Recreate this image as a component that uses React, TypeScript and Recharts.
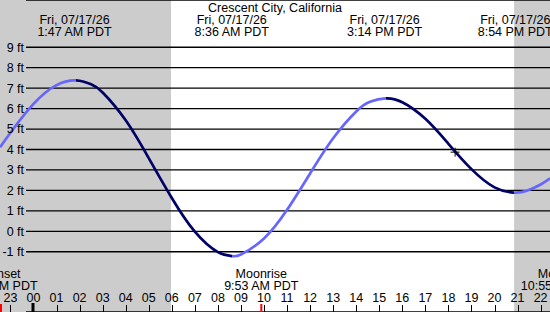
import React from 'react';
import {
  ComposedChart,
  Line,
  XAxis,
  YAxis,
  CartesianGrid,
  ReferenceArea,
  ReferenceLine,
  ReferenceDot,
} from 'recharts';

// Crescent City tide, Fri 07/17/26. Times are hours from local midnight.
const tideHours = [
  -1.45, -1, 0, 1, 1.85, 2.5, 3, 4, 5, 6, 7, 8, 8.6, 9, 10, 11, 12, 13, 14, 14.6, 15.28,
  16, 17, 18, 19, 20, 20.85, 21.4, 22, 22.41,
];
const tideFeet = [
  4.11, 4.82, 6.23, 7.15, 7.38, 7.19, 6.79, 5.43, 3.58, 1.63, -0.02, -1.02, -1.21, -1.13,
  -0.35, 1.05, 2.83, 4.55, 5.86, 6.33, 6.5, 6.31, 5.5, 4.28, 3.04, 2.15, 1.89, 1.98, 2.29, 2.59,
];

// high / low tide labels along the top
const tideEventHours = [1.783, 8.6, 15.233, 20.9];
const tideEventDates = ['Fri, 07/17/26', 'Fri, 07/17/26', 'Fri, 07/17/26', 'Fri, 07/17/26'];
const tideEventTimes = ['1:47 AM PDT', '8:36 AM PDT', '3:14 PM PDT', '8:54 PM PDT'];

// moon events along the bottom
const moonEventHours = [-1.6, 9.883, 22.917];
const moonEventNames = ['Moonset', 'Moonrise', 'Moonset'];
const moonEventTimes = ['10:24 PM PDT', '9:53 AM PDT', '10:55 PM PDT'];

// night: previous sunset -> sunrise, sunset -> next sunrise
const nightStart = [-3.13, 20.85];
const nightEnd = [5.967, 29.98];

const hourTicks = [-1, 0, 1, 2, 3, 4, 5, 6, 7, 8, 9, 10, 11, 12, 13, 14, 15, 16, 17, 18, 19, 20, 21, 22];
const hourLabels = ['23', '00', '01', '02', '03', '04', '05', '06', '07', '08', '09', '10', '11',
  '12', '13', '14', '15', '16', '17', '18', '19', '20', '21', '22'];
const feetTicks = [-1, 0, 1, 2, 3, 4, 5, 6, 7, 8, 9];

const nowHour = 18.29;
const nowFeet = 3.87;

const W = 550;
const H = 312;
const X_DOMAIN: [number, number] = [-1.453, 22.407];
const Y_DOMAIN: [number, number] = [-3.946, 11.31];
const FONT = '"Liberation Sans", Arial, sans-serif';
const FONT_SIZE = 12.5;
const FLOOD = '#6666ff';
const EBB = '#000066';

const data = tideHours.map((t, i) => ({ t, ft: tideFeet[i] }));

// stroke colour switches at every turning point of the curve
const turnHours = tideHours.filter((t, i) => {
  if (i === 0 || i === tideHours.length - 1) return false;
  const a = tideFeet[i] - tideFeet[i - 1];
  const b = tideFeet[i + 1] - tideFeet[i];
  return a * b < 0;
});
const firstRising = tideFeet[1] > tideFeet[0];
const toOffset = (t: number) => (t - X_DOMAIN[0]) / (X_DOMAIN[1] - X_DOMAIN[0]);

const gradientStops: { offset: number; color: string }[] = [];
let rising = firstRising;
let last = 0;
turnHours.forEach((t) => {
  const c = rising ? FLOOD : EBB;
  gradientStops.push({ offset: last, color: c }, { offset: toOffset(t), color: c });
  last = toOffset(t);
  rising = !rising;
});
gradientStops.push({ offset: last, color: rising ? FLOOD : EBB }, { offset: 1, color: rising ? FLOOD : EBB });

const textProps = {
  fontFamily: FONT,
  fontSize: FONT_SIZE,
  fill: '#000',
  textAnchor: 'middle' as const,
};

const HourTick = (props: any) => {
  const { x, payload } = props;
  const px = Math.round(x) + 0.5;
  const midnight = payload.value === 0;
  return (
    <g>
      <line
        x1={midnight ? Math.round(x) : px}
        x2={midnight ? Math.round(x) : px}
        y1={midnight ? 303 : 305}
        y2={H}
        stroke="#000"
        strokeWidth={midnight ? 3 : 1}
      />
      <text {...textProps} x={x} y={301.5}>
        {hourLabels[hourTicks.indexOf(payload.value)]}
      </text>
    </g>
  );
};

const FeetTick = (props: any) => {
  const { y, payload } = props;
  return (
    <text {...textProps} textAnchor="end" x={24} y={y + 4.4}>
      {`${payload.value} ft`}
    </text>
  );
};

const TwoLineLabel = (props: any) => {
  const { viewBox, lines, baselines, tick } = props;
  const x = viewBox.x;
  // event marks that fall just off the left edge are pinned to it
  const tx = Math.max(x, 1);
  return (
    <g>
      {tick && (
        <line x1={tx} x2={tx} y1={304} y2={H} stroke="#ff0000" strokeWidth={2} />
      )}
      <text {...textProps} x={x} y={baselines[0]}>{lines[0]}</text>
      <text {...textProps} x={x} y={baselines[1]}>{lines[1]}</text>
    </g>
  );
};

const NowMarker = (props: any) => {
  const { cx, cy } = props;
  return (
    <g>
      <line x1={cx - 4.5} x2={cx + 4.5} y1={cy} y2={cy} stroke="#000" strokeWidth={1} />
      <line x1={cx} x2={cx} y1={cy - 4.5} y2={cy + 4.5} stroke="#000" strokeWidth={1} />
    </g>
  );
};

export default function App() {
  return (
    <div style={{ position: 'absolute', left: 0, top: 0, width: W, height: H, background: '#fff' }}>
      <ComposedChart width={W} height={H} data={data} margin={{ top: 0, right: 0, bottom: 0, left: 0 }}>
        <defs>
          <linearGradient id="tideStroke" gradientUnits="userSpaceOnUse" x1={0} y1={0} x2={W} y2={0}>
            {gradientStops.map((s, i) => (
              <stop key={i} offset={s.offset} stopColor={s.color} />
            ))}
          </linearGradient>
        </defs>
        {nightStart.map((s, i) => (
          <ReferenceArea
            key={`night-${i}`}
            x1={s}
            x2={nightEnd[i]}
            fill="#cccccc"
            fillOpacity={1}
            stroke="none"
            ifOverflow="hidden"
            zIndex={-300}
          />
        ))}
        <CartesianGrid horizontal vertical={false} x={26} y={0} width={W - 26} height={H} stroke="#000" strokeWidth={1.3} />
        <XAxis
          dataKey="t"
          type="number"
          domain={X_DOMAIN}
          allowDataOverflow
          ticks={hourTicks}
          interval={0}
          height={20}
          mirror
          axisLine={false}
          tickLine={false}
          tick={<HourTick />}
        />
        <YAxis
          type="number"
          domain={Y_DOMAIN}
          allowDataOverflow
          ticks={feetTicks}
          interval={0}
          width={20}
          mirror
          axisLine={false}
          tickLine={false}
          tick={<FeetTick />}
        />
        {tideEventHours.map((t, i) => (
          <ReferenceLine
            key={`tide-${i}`}
            x={t}
            stroke="none"
            ifOverflow="visible"
            label={<TwoLineLabel lines={[tideEventDates[i], tideEventTimes[i]]} baselines={[24, 35.5]} />}
          />
        ))}
        {moonEventHours.map((t, i) => (
          <ReferenceLine
            key={`moon-${i}`}
            x={t}
            stroke="none"
            ifOverflow="visible"
            label={<TwoLineLabel lines={[moonEventNames[i], moonEventTimes[i]]} baselines={[277.5, 289.5]} tick />}
          />
        ))}
        <Line
          type="natural"
          dataKey="ft"
          stroke="url(#tideStroke)"
          strokeWidth={2.7}
          dot={false}
          activeDot={false}
          isAnimationActive={false}
        />
        <ReferenceDot x={nowHour} y={nowFeet} r={4} shape={<NowMarker />} ifOverflow="visible" />
      </ComposedChart>
      <svg width={W} height={H} style={{ position: 'absolute', left: 0, top: 0, pointerEvents: 'none' }}>
        <text {...textProps} x={W / 2} y={12}>Crescent City, California</text>
      </svg>
    </div>
  );
}
